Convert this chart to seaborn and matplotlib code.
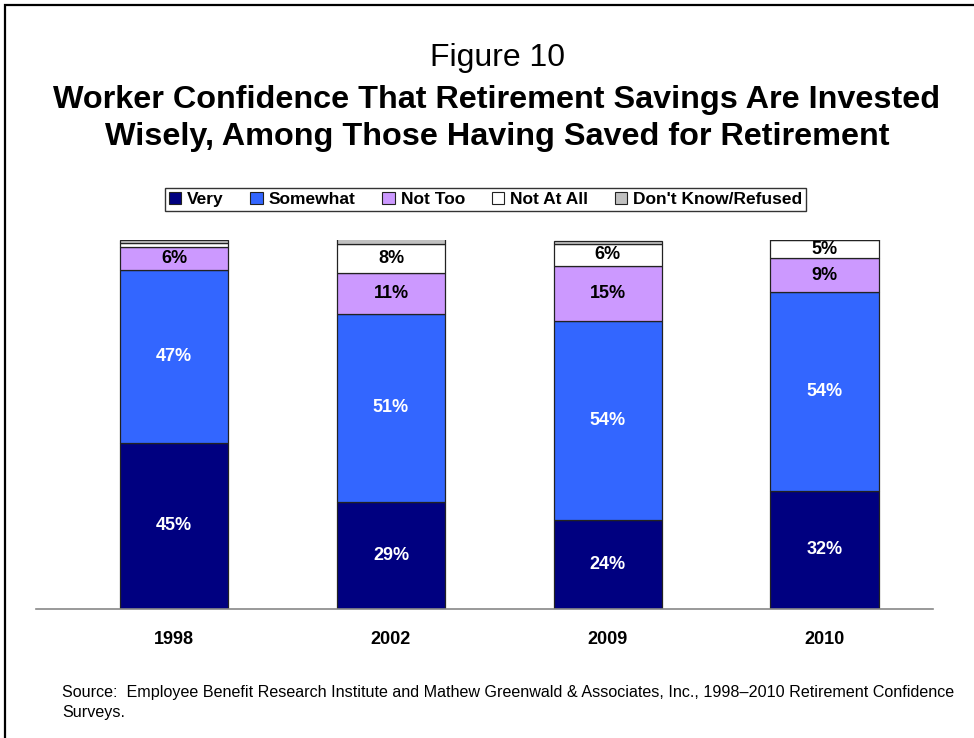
import matplotlib
matplotlib.use("Agg")
import matplotlib.pyplot as plt
import matplotlib.patches as mpatches
import seaborn as sns
import numpy as np
import pandas as pd

years = ["1998", "2002", "2009", "2010"]
categories = ["Very", "Somewhat", "Not Too", "Not At All", "Don't Know/Refused"]
very = [45, 29, 24, 32]
somewhat = [47, 51, 54, 54]
not_too = [6, 11, 15, 9]
not_at_all = [1.2, 8, 6, 5]
dont_know = [0.8, 1.9, 0.8, 0.8]
labels_very = ["45%", "29%", "24%", "32%"]
labels_somewhat = ["47%", "51%", "54%", "54%"]
labels_not_too = ["6%", "11%", "15%", "9%"]
labels_not_at_all = ["", "8%", "6%", "5%"]
labels_dont_know = ["", "", "", ""]

series = [very, somewhat, not_too, not_at_all, dont_know]
series_labels = [labels_very, labels_somewhat, labels_not_too, labels_not_at_all, labels_dont_know]
colors = ["#000080", "#3366FF", "#CC99FF", "#FFFFFF", "#C0C0C0"]
text_colors = ["white", "white", "black", "black", "black"]

sns.set_theme(style="white")
plt.rcParams["font.family"] = ["Liberation Sans", "DejaVu Sans"]
plt.rcParams["text.color"] = "black"
plt.rcParams["xtick.color"] = "black"
plt.rcParams["axes.labelcolor"] = "black"

fig = plt.figure(figsize=(9.74, 7.38), dpi=100)
W, H = 974, 738
ax = fig.add_axes([36 / W, 1 - 609 / H, (933 - 36) / W, (609 - 240) / H])

df = pd.DataFrame({"year": years})
bottom = np.zeros(len(years))
for vals, col, lab, tcol, name in zip(series, colors, series_labels, text_colors, categories):
    d = df.copy()
    d["value"] = vals
    sns.barplot(data=d, x="year", y="value", color=col, width=0.5, bottom=bottom,
                edgecolor="#222222", linewidth=0.9, saturation=1, ax=ax, label=name)
    for i, (v, t) in enumerate(zip(vals, lab)):
        if t:
            ax.text(i, bottom[i] + v / 2, t, ha="center", va="center",
                    fontsize=13, fontweight="bold", color=tcol)
    bottom = bottom + np.array(vals)

ax.set_xlim(-0.637, 3.50)
ax.set_ylim(0, 100)
ax.set_xlabel("")
ax.set_ylabel("")
ax.set_yticks([])
for s in ["top", "right", "left"]:
    ax.spines[s].set_visible(False)
ax.spines["bottom"].set_color("#888888")
ax.spines["bottom"].set_linewidth(1.2)
ax.tick_params(axis="x", length=0, pad=16, colors="black")
for t in ax.get_xticklabels():
    t.set_fontweight("bold")
    t.set_fontsize(13)
ax.legend().remove()

# legend
handles = [mpatches.Patch(facecolor=c, edgecolor="#222222", linewidth=0.8) for c in colors]
leg = fig.legend(handles, categories, loc="center", bbox_to_anchor=(485.5 / W, 1 - 199.5 / H),
                 ncol=5, frameon=True, fancybox=False, edgecolor="black",
                 prop={"weight": "bold", "size": 12.5}, handlelength=0.7, handleheight=0.7,
                 handletextpad=0.35, columnspacing=1.55, borderpad=0.2, borderaxespad=0)
leg.get_frame().set_linewidth(1.0)

# titles
fig.text(497 / W, 1 - 58 / H, "Figure 10", ha="center", va="center", fontsize=23)
fig.text(497 / W, 1 - 100 / H, "Worker Confidence That Retirement Savings Are Invested",
         ha="center", va="center", fontsize=23.3, fontweight="bold")
fig.text(497 / W, 1 - 137 / H, "Wisely, Among Those Having Saved for Retirement",
         ha="center", va="center", fontsize=23.3, fontweight="bold")

# source
fig.text(62 / W, 1 - 693 / H,
         "Source:  Employee Benefit Research Institute and Mathew Greenwald & Associates, Inc., 1998\u20132010 Retirement Confidence",
         ha="left", va="center", fontsize=11.65)
fig.text(62 / W, 1 - 713 / H, "Surveys.", ha="left", va="center", fontsize=11.65)

# outer frame
frame = mpatches.Rectangle((5 / W, -0.1), 1.2, (1 - 5 / H) + 0.1, transform=fig.transFigure,
                           fill=False, edgecolor="black", linewidth=1.6, clip_on=False)
fig.add_artist(frame)

fig.savefig("out.png", dpi=100)
